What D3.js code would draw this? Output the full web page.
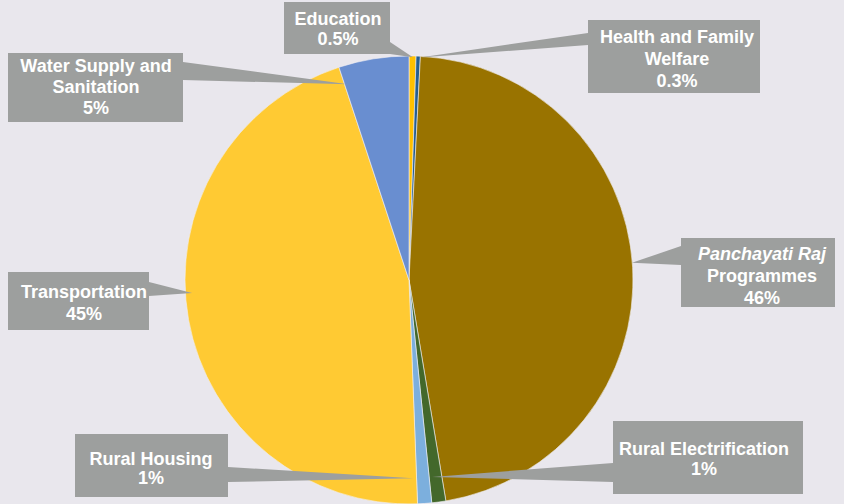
<!DOCTYPE html>
<html>
<head>
<meta charset="utf-8">
<script src="https://cdn.jsdelivr.net/npm/d3@7"></script>
<style>
  html, body { margin: 0; padding: 0; background: #E9E7ED; }
  svg { display: block; }
  text { font-family: "Liberation Sans", Arial, sans-serif; font-weight: bold; fill: #fff; }
</style>
</head>
<body>
<svg id="chart" width="844" height="504"></svg>
<script>
// Sector shares (%) of the allocation, clockwise from 12 o'clock
const categories = [
  "Education",
  "Health and Family Welfare",
  "Panchayati Raj Programmes",
  "Rural Electrification",
  "Rural Housing",
  "Transportation",
  "Water Supply and Sanitation"
];
const shares = [0.5, 0.3, 46, 1, 1, 45, 5];
const valueLabels = ["0.5%", "0.3%", "46%", "1%", "1%", "45%", "5%"];
const sliceColors = ["#FFC000", "#255E91", "#997300", "#43682B", "#7CAFDD", "#FFCA33", "#698ED0"];

// Callout text lines (the value label is appended as the last line)
const calloutLines = [
  [{t: "Education"}],
  [{t: "Health and Family"}, {t: "Welfare"}],
  [{t: "Panchayati Raj", italic: true}, {t: "Programmes"}],
  [{t: "Rural Electrification"}],
  [{t: "Rural Housing"}],
  [{t: "Transportation"}],
  [{t: "Water Supply and"}, {t: "Sanitation"}]
];

// Callout boxes: box rect, text centre / first baseline / line step,
// pointer base on the box edge and pointer tip in polar form (deg, fraction of radius)
const callouts = [
  {x: 284, y: 2,   w: 106, h: 52, cx: 338, by: 25,  step: 20, base: [[390, 42], [390, 54]],  tipA: 1.0,   tipR: 0.995},
  {x: 588, y: 20,  w: 172, h: 73, cx: 677, by: 43,  step: 22, base: [[588, 33], [588, 45]],  tipA: 2.8,   tipR: 0.995},
  {x: 681, y: 238, w: 154, h: 69, cx: 762, by: 260, step: 22, base: [[681, 246], [681, 265]], tipA: 85.6, tipR: 0.998},
  {x: 613, y: 421, w: 190, h: 73, cx: 704, by: 455, step: 20, base: [[613, 463], [613, 482]], tipA: 173.3, tipR: 0.885},
  {x: 75,  y: 434, w: 153, h: 63, cx: 151, by: 465, step: 19, base: [[228, 467], [228, 482]], tipA: 178.8, tipR: 0.885},
  {x: 8,   y: 272, w: 141, h: 58, cx: 84,  by: 298, step: 22, base: [[149, 282], [149, 296]], tipA: 266.6, tipR: 0.97},
  {x: 8,   y: 53,  w: 175, h: 69, cx: 96,  by: 72,  step: 21, base: [[183, 62], [183, 80]],  tipA: 342.7, tipR: 0.915}
];

const svg = d3.select("#chart");
const cx = 409, cy = 280, radius = 224;

const pie = d3.pie().sort(null).value(d => d)
  .startAngle(0).endAngle(2 * Math.PI);
const arc = d3.arc().innerRadius(0).outerRadius(radius);
const arcs = pie(shares);

const g = svg.append("g").attr("transform", `translate(${cx},${cy})`);
g.selectAll("path.slice")
  .data(arcs)
  .join("path")
  .attr("class", "slice")
  .attr("d", arc)
  .attr("fill", (d, i) => sliceColors[i])
  .attr("stroke", "#F2F0F4")
  .attr("stroke-width", 0.6);

// Callouts with pointer wedges
const polar = (deg, r) => {
  const a = deg * Math.PI / 180;
  return [cx + r * Math.sin(a), cy - r * Math.cos(a)];
};

const cg = svg.append("g");
callouts.forEach((c, i) => {
  const tip = polar(c.tipA, c.tipR * radius);
  cg.append("path")
    .attr("d", `M${c.base[0][0]},${c.base[0][1]}L${tip[0]},${tip[1]}L${c.base[1][0]},${c.base[1][1]}Z`)
    .attr("fill", "#9D9F9E");
  cg.append("rect")
    .attr("x", c.x).attr("y", c.y).attr("width", c.w).attr("height", c.h)
    .attr("fill", "#9D9F9E");
  const lines = calloutLines[i].concat([{t: valueLabels[i]}]);
  const txt = cg.append("text")
    .attr("text-anchor", "middle")
    .attr("font-size", 18);
  lines.forEach((ln, k) => {
    txt.append("tspan")
      .attr("x", c.cx)
      .attr("y", c.by + k * c.step)
      .attr("font-style", ln.italic ? "italic" : null)
      .text(ln.t);
  });
});
</script>
</body>
</html>
